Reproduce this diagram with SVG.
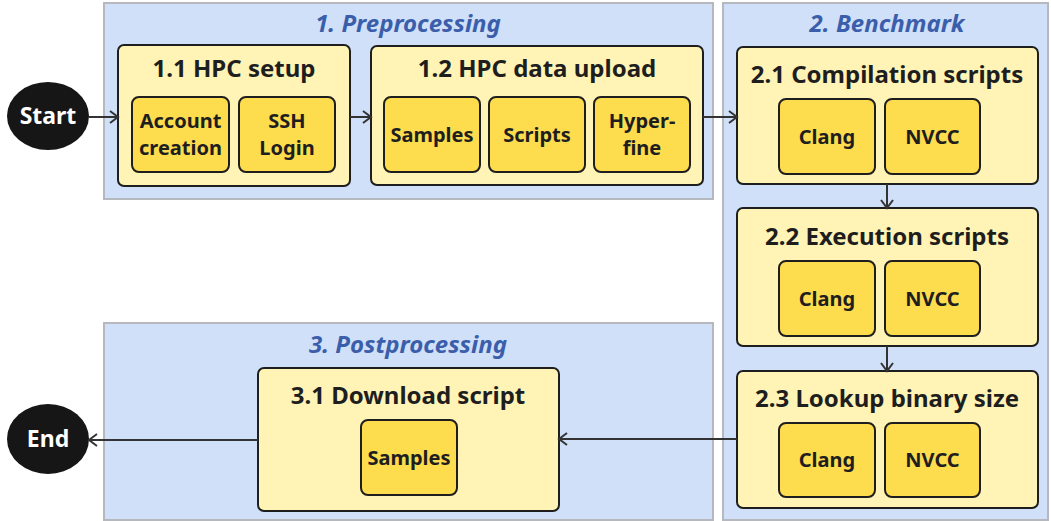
<svg xmlns="http://www.w3.org/2000/svg" width="1051" height="521" viewBox="0 0 1051 521">
<defs>
<style>
.cl{fill:#cfe0f8;stroke:#b5b8bd;stroke-width:2}
.ct{font-family:"Noto Sans","Open Sans",sans-serif;font-weight:bold;font-style:italic;font-size:24px;fill:#3b5eab;text-anchor:middle}
.nd{fill:#fff3b5;stroke:#1e1e1e;stroke-width:2}
.nt{font-family:"Noto Sans","Open Sans",sans-serif;font-weight:bold;font-size:24px;fill:#1e1e1e;text-anchor:middle}
.in{fill:#fddc4e;stroke:#1e1e1e;stroke-width:2}
.it{font-family:"Noto Sans","Open Sans",sans-serif;font-weight:bold;font-size:20px;fill:#1e1e1e;text-anchor:middle}
.term{fill:#161616}
.tt{font-family:"Noto Sans","Open Sans",sans-serif;font-weight:bold;font-size:23px;fill:#ffffff;text-anchor:middle}
.cn{stroke:#333;stroke-width:2;fill:none;marker-end:url(#ah)}
</style>
<marker id="ah" markerUnits="userSpaceOnUse" markerWidth="12" markerHeight="14" refX="9" refY="7" orient="auto">
<path d="M1,1 L9,7 L1,13" fill="none" stroke="#333" stroke-width="2"/>
</marker>
</defs>
<rect width="1051" height="521" fill="#ffffff"/>

<g id="cluster1">
<rect class="cl" x="104" y="3" width="609" height="196"/>
<text class="ct" x="408" y="32">1. Preprocessing</text>
</g>
<g id="cluster2">
<rect class="cl" x="723" y="3" width="325" height="517"/>
<text class="ct" x="887" y="32">2. Benchmark</text>
</g>
<g id="cluster3">
<rect class="cl" x="104" y="323" width="609" height="197"/>
<text class="ct" x="408" y="353">3. Postprocessing</text>
</g>

<g id="start">
<ellipse class="term" cx="48" cy="116" rx="41" ry="34"/>
<text class="tt" x="48" y="124">Start</text>
</g>
<g id="end">
<ellipse class="term" cx="48" cy="439" rx="41" ry="35"/>
<text class="tt" x="48" y="447">End</text>
</g>

<g id="n11">
<rect class="nd" x="118" y="45" width="232" height="141" rx="6"/>
<text class="nt" x="234" y="77">1.1 HPC setup</text>
<rect class="in" x="132" y="97" width="97" height="75" rx="7"/>
<text class="it" x="180.5" y="128">Account</text>
<text class="it" x="180.5" y="155">creation</text>
<rect class="in" x="239" y="97" width="96" height="75" rx="7"/>
<text class="it" x="287" y="128">SSH</text>
<text class="it" x="287" y="155">Login</text>
</g>

<g id="n12">
<rect class="nd" x="371" y="46" width="332" height="139" rx="6"/>
<text class="nt" x="537" y="77">1.2 HPC data upload</text>
<rect class="in" x="384" y="97" width="96" height="75" rx="7"/>
<text class="it" x="432" y="142">Samples</text>
<rect class="in" x="489" y="97" width="96" height="75" rx="7"/>
<text class="it" x="537" y="142">Scripts</text>
<rect class="in" x="594" y="97" width="96" height="75" rx="7"/>
<text class="it" x="642" y="128">Hyper-</text>
<text class="it" x="642" y="155">fine</text>
</g>

<g id="n21">
<rect class="nd" x="737" y="47" width="301" height="137" rx="6"/>
<text class="nt" x="887" y="83">2.1 Compilation scripts</text>
<rect class="in" x="779" y="99" width="96" height="75" rx="7"/>
<text class="it" x="827" y="144">Clang</text>
<rect class="in" x="885" y="99" width="95" height="75" rx="7"/>
<text class="it" x="932.5" y="144">NVCC</text>
</g>

<g id="n22">
<rect class="nd" x="737" y="208" width="301" height="138" rx="6"/>
<text class="nt" x="887" y="245">2.2 Execution scripts</text>
<rect class="in" x="779" y="261" width="96" height="75" rx="7"/>
<text class="it" x="827" y="306">Clang</text>
<rect class="in" x="885" y="261" width="95" height="75" rx="7"/>
<text class="it" x="932.5" y="306">NVCC</text>
</g>

<g id="n23">
<rect class="nd" x="737" y="371" width="301" height="137" rx="6"/>
<text class="nt" x="887" y="407">2.3 Lookup binary size</text>
<rect class="in" x="779" y="423" width="96" height="74" rx="7"/>
<text class="it" x="827" y="467">Clang</text>
<rect class="in" x="885" y="423" width="95" height="74" rx="7"/>
<text class="it" x="932.5" y="467">NVCC</text>
</g>

<g id="n31">
<rect class="nd" x="258" y="368" width="301" height="143" rx="6"/>
<text class="nt" x="408" y="404">3.1 Download script</text>
<rect class="in" x="361" y="420" width="96" height="75" rx="7"/>
<text class="it" x="409" y="465">Samples</text>
</g>

<g id="connectors">
<line class="cn" x1="89" y1="117" x2="118" y2="117"/>
<line class="cn" x1="350" y1="117" x2="371" y2="117"/>
<line class="cn" x1="703" y1="117" x2="737" y2="117"/>
<line class="cn" x1="887" y1="184" x2="887" y2="208"/>
<line class="cn" x1="887" y1="346" x2="887" y2="371"/>
<line class="cn" x1="737" y1="439" x2="559" y2="439"/>
<line class="cn" x1="258" y1="440" x2="89" y2="440"/>
</g>
</svg>
